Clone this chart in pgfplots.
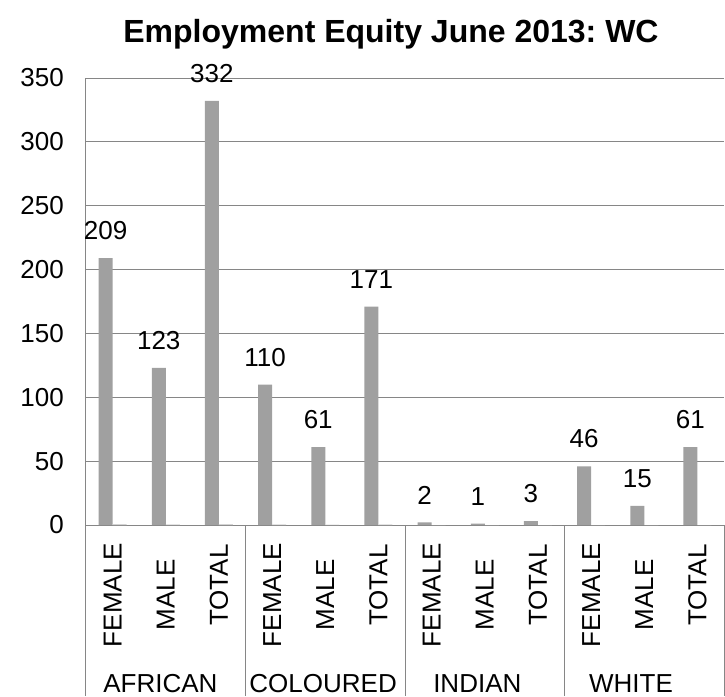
\documentclass[border=0pt]{standalone}
\usepackage{pgfplots}
\pgfplotsset{compat=1.18}
\usepackage{fontspec}
\setmainfont{Liberation Sans}
\definecolor{barmain}{RGB}{160,160,160}
\definecolor{barsec}{RGB}{212,212,212}
\definecolor{gridc}{RGB}{134,134,134}
\begin{document}
\frenchspacing
\begin{tikzpicture}[font=\fontsize{26}{31}\selectfont]
\path[use as bounding box] (-86pt,-171pt) rectangle (639pt,525pt);
\begin{axis}[
  at={(0,0)}, anchor=south west,
  scale only axis, width=638pt, height=447pt,
  xmin=-0.5, xmax=11.5, ymin=0, ymax=350,
  ytick={0,50,...,350},
  xtick={0,...,11},
  xticklabels={FEMALE,MALE,{\hspace*{20pt}TOTAL},FEMALE,MALE,{\hspace*{20pt}TOTAL},FEMALE,MALE,{\hspace*{20pt}TOTAL},FEMALE,MALE,{\hspace*{20pt}TOTAL}},
  ybar=0pt, bar width=14pt,
  axis x line*=bottom, axis y line*=left,
  axis line style={draw=gridc, line width=1pt, -},
  ymajorgrids, grid style={draw=gridc, line width=1pt},
  major tick length=0pt,
  clip=false,
  /pgf/number format/assume math mode=true,
  yticklabel style={inner sep=0pt, xshift=-22pt},
  xticklabel style={yshift=-70pt, rotate=90, anchor=center, inner sep=0pt},
  every node near coord/.append style={inner sep=0pt, yshift=18pt, black},
]
\addplot[fill=barmain, draw=none, nodes near coords] coordinates {
  (0,209) (1,123) (2,332) (3,110) (4,61) (5,171)
  (6,2) (7,1) (8,3) (9,46) (10,15) (11,61)};
\addplot[fill=barsec, draw=none] coordinates {
  (0,0.6) (1,0.5) (2,0.6) (3,0.4) (4,0.3) (5,0.4)
  (6,0) (7,0) (8,0) (9,0) (10,0) (11,0)};
\draw[gridc, line width=1pt] (axis cs:-0.5,0) -- ([yshift=-171pt]axis cs:-0.5,0);
\draw[gridc, line width=1pt] (axis cs:2.5,0) -- ([yshift=-171pt]axis cs:2.5,0);
\draw[gridc, line width=1pt] (axis cs:5.5,0) -- ([yshift=-171pt]axis cs:5.5,0);
\draw[gridc, line width=1pt] (axis cs:8.5,0) -- ([yshift=-171pt]axis cs:8.5,0);
\draw[gridc, line width=1pt] (axis cs:11.5,0) -- ([yshift=-171pt]axis cs:11.5,0);
\node[anchor=base, inner sep=0pt, yshift=-167pt] at (axis cs:0.90,0) {AFRICAN};
\node[anchor=base, inner sep=0pt, yshift=-167pt] at (axis cs:3.96,0) {COLOURED};
\node[anchor=base, inner sep=0pt, yshift=-167pt] at (axis cs:6.86,0) {INDIAN};
\node[anchor=base, inner sep=0pt, yshift=-167pt] at (axis cs:9.75,0) {WHITE};
\end{axis}
\node[font=\fontsize{32}{38}\selectfont\bfseries, anchor=base] at (305pt,482pt) {Employment Equity June 2013: WC};
\end{tikzpicture}
\end{document}
